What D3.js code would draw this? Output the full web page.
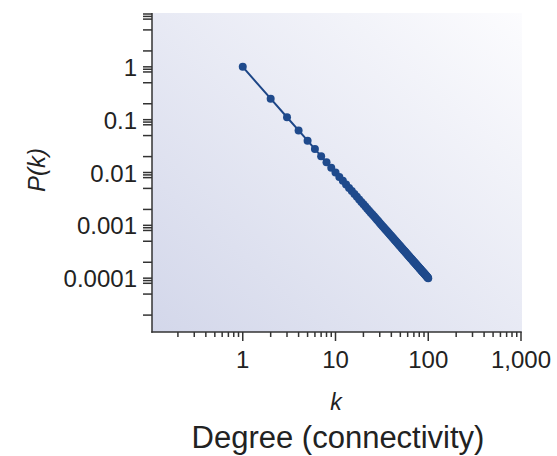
<!DOCTYPE html>
<html>
<head>
<meta charset="utf-8">
<script src="https://cdn.jsdelivr.net/npm/d3@7"></script>
<style>
  body { margin: 0; background: #fff; }
  text { font-family: "Liberation Sans", Arial, sans-serif; fill: #222; }
</style>
</head>
<body>
<svg id="chart" width="557" height="456"></svg>
<script>
// Degree k and probability P(k)
var degrees = [1, 2, 3, 4, 5, 6, 7, 8, 9, 10,
  11, 12, 13, 14, 15, 16, 17, 18, 19, 20,
  21, 22, 23, 24, 25, 26, 27, 28, 29, 30,
  31, 32, 33, 34, 35, 36, 37, 38, 39, 40,
  41, 42, 43, 44, 45, 46, 47, 48, 49, 50,
  51, 52, 53, 54, 55, 56, 57, 58, 59, 60,
  61, 62, 63, 64, 65, 66, 67, 68, 69, 70,
  71, 72, 73, 74, 75, 76, 77, 78, 79, 80,
  81, 82, 83, 84, 85, 86, 87, 88, 89, 90,
  91, 92, 93, 94, 95, 96, 97, 98, 99, 100];
var probs = [1, 0.25, 0.1111, 0.0625, 0.04, 0.02778, 0.02041, 0.01563, 0.01235, 0.01,
  0.008264, 0.006944, 0.005917, 0.005102, 0.004444, 0.003906, 0.003460, 0.003086, 0.002770, 0.0025,
  0.002268, 0.002066, 0.001890, 0.001736, 0.0016, 0.001479, 0.001372, 0.001276, 0.001189, 0.001111,
  0.001041, 0.0009766, 0.0009183, 0.0008651, 0.0008163, 0.0007716, 0.0007305, 0.0006925, 0.0006575, 0.000625,
  0.0005949, 0.0005669, 0.0005408, 0.0005165, 0.0004938, 0.0004726, 0.0004527, 0.0004340, 0.0004165, 0.0004,
  0.0003845, 0.0003698, 0.0003560, 0.0003429, 0.0003306, 0.0003189, 0.0003078, 0.0002973, 0.0002873, 0.0002778,
  0.0002687, 0.0002601, 0.0002520, 0.0002441, 0.0002367, 0.0002296, 0.0002228, 0.0002163, 0.0002100, 0.0002041,
  0.0001984, 0.0001929, 0.0001877, 0.0001826, 0.0001778, 0.0001731, 0.0001687, 0.0001644, 0.0001602, 0.0001563,
  0.0001524, 0.0001487, 0.0001452, 0.0001417, 0.0001384, 0.0001352, 0.0001321, 0.0001291, 0.0001262, 0.0001235,
  0.0001208, 0.0001181, 0.0001156, 0.0001132, 0.0001108, 0.0001085, 0.0001063, 0.0001041, 0.0001020, 0.0001];

var xMajor = [1, 10, 100, 1000];
var xMajorLabels = ["1", "10", "100", "1,000"];
var yMajor = [1, 0.1, 0.01, 0.001, 0.0001];
var yMajorLabels = ["1", "0.1", "0.01", "0.001", "0.0001"];
var xMinorSteps = [2, 3, 4, 5, 6, 7, 8, 9];
var yMinorSteps = [2, 5, 8, 9];

var svg = d3.select("#chart");
// plot box (note: "top" is taken by window.top, so use own names)
var plotL = 152, plotR = 522, plotT = 13, plotB = 332;

var x = d3.scaleLog().domain([0.1, 1000]).range([150, 521]);
var y = d3.scaleLog().domain([0.00001, 10]).range([331, 14]);

// Diagonal gradient behind the plot
var grad = svg.append("defs").append("linearGradient")
  .attr("id", "bg")
  .attr("x1", 0).attr("y1", 1)
  .attr("x2", 1).attr("y2", 0);
grad.append("stop").attr("offset", "0%").attr("stop-color", "#d3d7ea");
grad.append("stop").attr("offset", "100%").attr("stop-color", "#fcfcfe");

svg.append("rect")
  .attr("x", plotL).attr("y", plotT)
  .attr("width", plotR - plotL).attr("height", plotB - plotT)
  .attr("fill", "url(#bg)");

// Build minor tick values from decade steps
var xMinor = [];
[0.1, 1, 10, 100].forEach(function(d) {
  xMinorSteps.forEach(function(s) { xMinor.push(d * s); });
});
var yMinor = [];
[0.00001, 0.0001, 0.001, 0.01, 0.1, 1].forEach(function(d) {
  yMinorSteps.forEach(function(s) { yMinor.push(d * s); });
});

var axisColor = "#333";

// Bottom axis
var gx = svg.append("g");
gx.append("line")
  .attr("x1", plotL - 0.75).attr("x2", x(1000) + 0.75)
  .attr("y1", plotB).attr("y2", plotB)
  .attr("stroke", axisColor).attr("stroke-width", 1.5);
gx.selectAll("line.minor").data(xMinor).enter().append("line")
  .attr("class", "minor")
  .attr("x1", d => x(d)).attr("x2", d => x(d))
  .attr("y1", plotB).attr("y2", plotB + 5)
  .attr("stroke", axisColor).attr("stroke-width", 1.5);
gx.selectAll("line.major").data(xMajor).enter().append("line")
  .attr("class", "major")
  .attr("x1", d => x(d)).attr("x2", d => x(d))
  .attr("y1", plotB).attr("y2", plotB + 9)
  .attr("stroke", axisColor).attr("stroke-width", 1.5);
gx.selectAll("text").data(xMajor).enter().append("text")
  .attr("x", d => x(d)).attr("y", 368)
  .attr("text-anchor", "middle")
  .style("font-size", "24px")
  .text((d, i) => xMajorLabels[i]);

// Left axis
var gy = svg.append("g");
gy.append("line")
  .attr("x1", plotL).attr("x2", plotL)
  .attr("y1", plotT).attr("y2", plotB + 0.75)
  .attr("stroke", axisColor).attr("stroke-width", 1.5);
gy.selectAll("line.tick").data(yMinor.concat(yMajor, [10])).enter().append("line")
  .attr("class", "tick")
  .attr("x1", plotL - 9).attr("x2", plotL)
  .attr("y1", d => y(d)).attr("y2", d => y(d))
  .attr("stroke", axisColor).attr("stroke-width", 1.5);
gy.selectAll("text").data(yMajor).enter().append("text")
  .attr("x", 137).attr("y", d => y(d) + 9)
  .attr("text-anchor", "end")
  .style("font-size", "24px")
  .text((d, i) => yMajorLabels[i]);

// Axis titles
svg.append("text")
  .attr("transform", "translate(45,170) rotate(-90)")
  .attr("text-anchor", "middle")
  .style("font-size", "24px")
  .style("font-style", "italic")
  .text("P(k)");
svg.append("text")
  .attr("x", 336).attr("y", 410)
  .attr("text-anchor", "middle")
  .style("font-size", "23px")
  .style("font-style", "italic")
  .text("k");
svg.append("text")
  .attr("x", 338).attr("y", 448)
  .attr("text-anchor", "middle")
  .style("font-size", "31px")
  .text("Degree (connectivity)");

// Data line and markers
var pts = degrees.map((k, i) => [x(k), y(probs[i])]);
svg.append("path")
  .attr("d", d3.line()(pts))
  .attr("fill", "none")
  .attr("stroke", "#1d4687")
  .attr("stroke-width", 2);
svg.selectAll("circle.pt").data(pts).enter().append("circle")
  .attr("class", "pt")
  .attr("cx", d => d[0]).attr("cy", d => d[1])
  .attr("r", 4)
  .attr("fill", "#1f4a8c");
</script>
</body>
</html>
